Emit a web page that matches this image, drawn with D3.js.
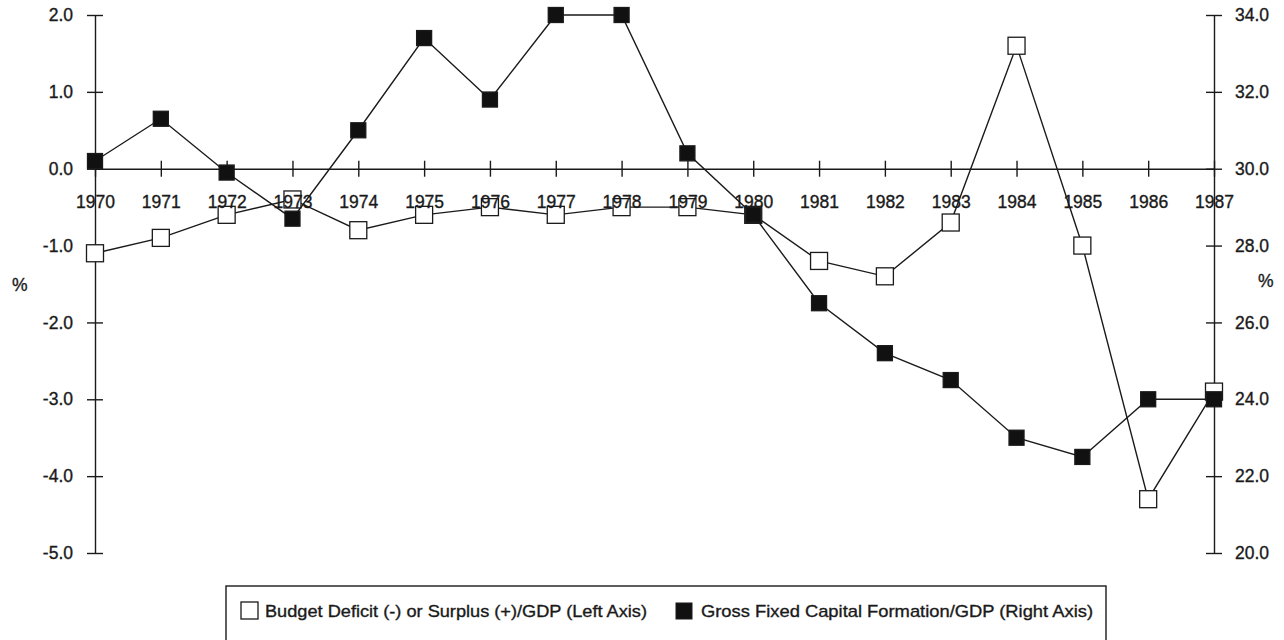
<!DOCTYPE html>
<html>
<head>
<meta charset="utf-8">
<script src="https://cdn.jsdelivr.net/npm/d3@7"></script>
<style>
  body { margin: 0; background: #fff; }
  text { font-family: "Liberation Sans", Arial, Helvetica, sans-serif; fill: #1a1a1a;
         stroke: #1a1a1a; stroke-width: 0.35px; }
</style>
</head>
<body>
<div id="chart"></div>
<script>
  const w = 1284;
  const h = 640;

  // data
  const years = [1970, 1971, 1972, 1973, 1974, 1975, 1976, 1977, 1978,
                 1979, 1980, 1981, 1982, 1983, 1984, 1985, 1986, 1987];
  const budget = [-1.1, -0.9, -0.6, -0.4, -0.8, -0.6, -0.5, -0.6, -0.5,
                  -0.5, -0.6, -1.2, -1.4, -0.7, 1.6, -1.0, -4.3, -2.9];
  const gfcf = [30.2, 31.3, 29.9, 28.7, 31.0, 33.4, 31.8, 34.0, 34.0,
                30.4, 28.8, 26.5, 25.2, 24.5, 23.0, 22.5, 24.0, 24.0];
  const leftTicks = [2, 1, 0, -1, -2, -3, -4, -5];
  const rightTicks = [34, 32, 30, 28, 26, 24, 22, 20];
  const legendLabels = ["Budget Deficit (-) or Surplus (+)/GDP (Left Axis)",
                        "Gross Fixed Capital Formation/GDP (Right Axis)"];

  const ink = "#1a1a1a";
  const fmt = d => d.toFixed(1);   // plain hyphen for negatives

  var svg = d3.select("#chart")
    .append("svg")
    .attr("width", w)
    .attr("height", h);

  const x = d3.scaleLinear().domain([1970, 1987]).range([95, 1214]);
  const yL = d3.scaleLinear().domain([-5, 2]).range([553, 15]);
  const yR = d3.scaleLinear().domain([20, 34]).range([553, 15]);

  function styleAxis(g) {
    g.selectAll("path, line").style("stroke", ink).style("stroke-width", "1.4px");
    g.selectAll("text").style("font-size", "17.5px").style("fill", ink);
  }

  const xAxis = d3.axisBottom(x).tickValues(years).tickFormat(d3.format("d")).tickSizeOuter(0);

  // x axis sits on the zero line of the left scale
  var gx = svg.append("g")
    .attr("transform", "translate(0," + yL(0) + ")")
    .call(xAxis);
  gx.selectAll(".tick line").attr("y1", -8).attr("y2", 8);
  gx.selectAll(".tick text").remove();
  styleAxis(gx);

  var gl = svg.append("g")
    .attr("transform", "translate(" + x(1970) + ",0)")
    .call(d3.axisLeft(yL).tickValues(leftTicks).tickFormat(fmt).tickSizeOuter(0));
  gl.selectAll(".tick line").attr("x1", -8).attr("x2", 8);
  gl.selectAll(".tick text").attr("x", -22);
  styleAxis(gl);

  var gr = svg.append("g")
    .attr("transform", "translate(" + x(1987) + ",0)")
    .call(d3.axisRight(yR).tickValues(rightTicks).tickFormat(fmt).tickSizeOuter(0));
  gr.selectAll(".tick line").attr("x1", -8).attr("x2", 8);
  gr.selectAll(".tick text").attr("x", 21);
  styleAxis(gr);

  svg.append("text").attr("x", 12).attr("y", 291).style("font-size", "17.5px").text("%");
  svg.append("text").attr("x", 1258).attr("y", 287).style("font-size", "17.5px").text("%");

  function seriesLine(vals, scale) {
    var line = d3.line().x((d, i) => x(years[i])).y(d => scale(d));
    svg.append("path")
      .attr("d", line(vals))
      .style("fill", "none")
      .style("stroke", ink)
      .style("stroke-width", "1.4px");
  }

  function markers(vals, scale, size, fill) {
    svg.append("g").selectAll("rect")
      .data(vals)
      .join("rect")
      .attr("x", (d, i) => x(years[i]) - size / 2)
      .attr("y", d => scale(d) - size / 2)
      .attr("width", size)
      .attr("height", size)
      .style("fill", fill)
      .style("stroke", ink)
      .style("stroke-width", "1.3px");
  }

  seriesLine(budget, yL);
  markers(budget, yL, 17, "#fff");
  seriesLine(gfcf, yR);
  markers(gfcf, yR, 15, "#111");

  // year labels go on top of the marks, as in the original
  var gxt = svg.append("g")
    .attr("transform", "translate(0," + yL(0) + ")")
    .call(xAxis);
  gxt.select(".domain").remove();
  gxt.selectAll(".tick line").remove();
  gxt.selectAll(".tick text").attr("y", 39).attr("dy", 0);
  styleAxis(gxt);

  // legend, box runs off the bottom edge
  svg.append("rect")
    .attr("x", 226).attr("y", 586)
    .attr("width", 880).attr("height", 80)
    .style("fill", "none").style("stroke", ink).style("stroke-width", "1.4px");

  svg.append("rect").attr("x", 241).attr("y", 602).attr("width", 17).attr("height", 17)
    .style("fill", "#fff").style("stroke", ink).style("stroke-width", "1.3px");
  svg.append("text").attr("x", 265).attr("y", 617)
    .attr("textLength", 382).attr("lengthAdjust", "spacingAndGlyphs")
    .style("font-size", "17px").text(legendLabels[0]);

  svg.append("rect").attr("x", 676).attr("y", 603).attr("width", 16).attr("height", 16)
    .style("fill", "#111").style("stroke", ink).style("stroke-width", "1px");
  svg.append("text").attr("x", 701).attr("y", 617)
    .attr("textLength", 392).attr("lengthAdjust", "spacingAndGlyphs")
    .style("font-size", "17px").text(legendLabels[1]);
</script>
</body>
</html>
